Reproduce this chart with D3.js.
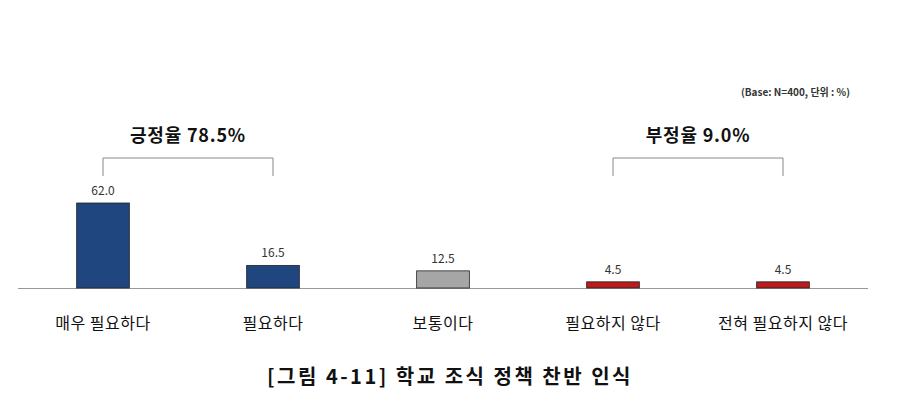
<!DOCTYPE html>
<html><head><meta charset="utf-8">
<script src="https://cdn.jsdelivr.net/npm/d3@7"></script>
<style>body{margin:0;background:#fff;font-family:"Noto Sans CJK KR","Noto Sans",sans-serif}</style>
</head><body><svg id="c" width="920" height="418"></svg>
<script>
const categories=["매우 필요하다","필요하다","보통이다","필요하지 않다","전혀 필요하지 않다"];
const values=[62.0,16.5,12.5,4.5,4.5];
const colors=["#1f467f","#1f467f","#a6a6a6","#b81c1c","#b81c1c"];
const groups=[{label:"긍정율 78.5%",from:0,to:1},{label:"부정율 9.0%",from:3,to:4}];
const svg=d3.select("#c");
const x=d3.scaleBand().domain(categories).range([18,868]).paddingInner(0.69).paddingOuter(0.345);
const y=d3.scaleLinear().domain([0,62]).range([288,203]);
svg.append("line").attr("x1",18).attr("x2",868).attr("y1",288.5).attr("y2",288.5).attr("stroke","#999");
svg.selectAll("rect.b").data(values).join("rect").attr("x",(d,i)=>x(categories[i])).attr("y",d=>y(d))
 .attr("width",x.bandwidth()).attr("height",d=>y(0)-y(d)).attr("fill",(d,i)=>colors[i]).attr("stroke","#222").attr("stroke-width",0.8);
svg.selectAll("text.v").data(values).join("text").attr("x",(d,i)=>x(categories[i])+x.bandwidth()/2).attr("y",d=>y(d)-8)
 .attr("text-anchor","middle").attr("font-size",12).attr("fill","#333").text(d=>d.toFixed(1));
svg.selectAll("text.c").data(categories).join("text").attr("x",d=>x(d)+x.bandwidth()/2).attr("y",329)
 .attr("text-anchor","middle").attr("font-size",16).attr("letter-spacing",0.5).attr("fill","#111").text(d=>d);
groups.forEach(g=>{
 const a=x(categories[g.from])+x.bandwidth()/2, b=x(categories[g.to])+x.bandwidth()/2;
 svg.append("path").attr("d",`M${a},176V158H${b}V176`).attr("fill","none").attr("stroke","#888");
 svg.append("text").attr("x",(a+b)/2).attr("y",142).attr("text-anchor","middle").attr("font-size",18).attr("letter-spacing",0.8).attr("font-weight","bold").attr("fill","#111").text(g.label);
});
svg.append("text").attr("x",850).attr("y",96).attr("text-anchor","end").attr("font-size",10).attr("font-weight","bold").attr("fill","#333").text("(Base: N=400, 단위 : %)");
svg.append("text").attr("x",450).attr("y",384).attr("text-anchor","middle").attr("font-size",20).attr("letter-spacing",2.5).attr("font-weight","bold").attr("fill","#111").text("[그림 4-11] 학교 조식 정책 찬반 인식");
</script></body></html>
